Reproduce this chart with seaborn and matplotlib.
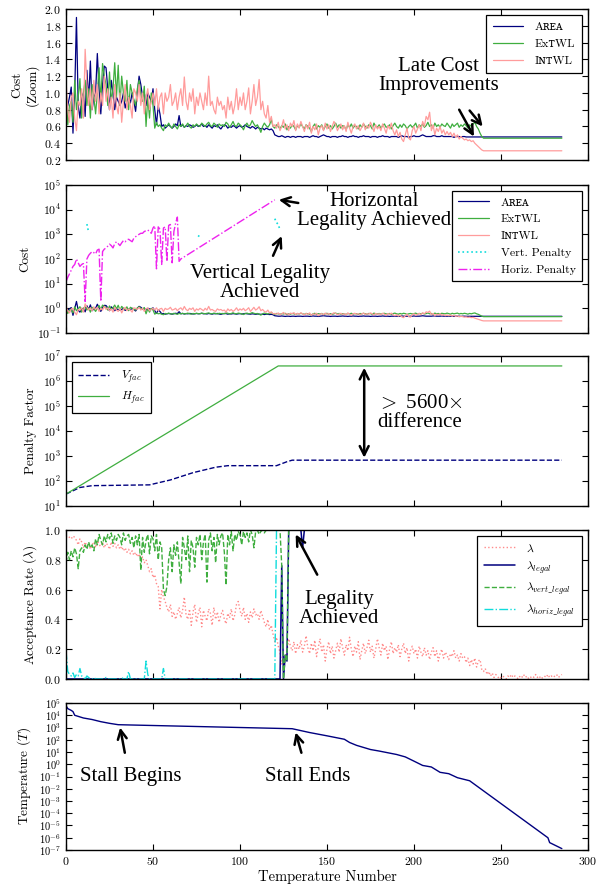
import numpy as np
import matplotlib
matplotlib.use("Agg")
import matplotlib.pyplot as plt
from matplotlib.ticker import NullLocator, FixedLocator
import seaborn as sns

# ---------------------------------------------------------------- data
final_step = 285

# normalised cost terms, one value per temperature step (held flat after the list ends)
area_cost = [
    0.80, 0.85, 0.95, 1.07, 0.52, 1.00, 1.90, 0.85, 0.70, 0.95,
    1.00, 0.72, 1.27, 0.90, 1.38, 0.80, 0.95, 1.00, 1.47, 1.05,
    0.75, 1.10, 1.32, 1.30, 1.05, 0.80, 1.15, 1.00, 0.80, 0.95,
    0.90, 0.85, 0.90, 1.00, 0.82, 0.90, 0.95, 0.88, 1.00, 0.90,
    0.78, 1.00, 1.20, 1.10, 0.95, 1.00, 0.85, 1.00, 0.95, 0.90,
    1.05, 0.80, 0.62, 0.85, 0.75, 0.60, 0.62, 0.58, 0.60, 0.62,
    0.60, 0.58, 0.60, 0.63, 0.61, 0.73, 0.60, 0.62, 0.59, 0.61,
    0.60, 0.62, 0.61, 0.59, 0.60, 0.62, 0.60, 0.61, 0.63, 0.60,
    0.61, 0.59, 0.62, 0.60, 0.58, 0.61, 0.60, 0.62, 0.59, 0.57,
    0.60, 0.62, 0.61, 0.58, 0.60, 0.59, 0.61, 0.60, 0.58, 0.60,
    0.61, 0.59, 0.60, 0.62, 0.60, 0.59, 0.58, 0.60, 0.59, 0.57,
    0.59, 0.58, 0.57, 0.58, 0.56, 0.58, 0.57, 0.56, 0.57, 0.55,
    0.50, 0.49, 0.48, 0.48, 0.49, 0.48, 0.47, 0.48, 0.48, 0.47,
    0.48, 0.48, 0.47, 0.48, 0.48, 0.48, 0.47, 0.48, 0.48, 0.48,
    0.47, 0.48, 0.49, 0.48, 0.48, 0.47, 0.48, 0.49, 0.50, 0.49,
    0.48, 0.48, 0.47, 0.48, 0.48, 0.48, 0.47, 0.48, 0.48, 0.49,
    0.48, 0.48, 0.47, 0.48, 0.48, 0.49, 0.48, 0.48, 0.47, 0.48,
    0.48, 0.49, 0.48, 0.48, 0.48, 0.47, 0.48, 0.48, 0.48, 0.47,
    0.48, 0.48, 0.49, 0.48, 0.48, 0.48, 0.47, 0.48, 0.48, 0.48,
    0.48, 0.47, 0.48, 0.49, 0.48, 0.48, 0.48, 0.47, 0.48, 0.48,
    0.49, 0.48, 0.48, 0.48, 0.49, 0.50, 0.49, 0.48, 0.48, 0.48,
    0.48, 0.49, 0.49, 0.48, 0.48, 0.48, 0.49, 0.48, 0.48, 0.48,
    0.48, 0.48, 0.48, 0.47, 0.48, 0.48, 0.48, 0.47, 0.48, 0.48,
    0.475,
]

extwl_cost = [
    1.10, 0.62, 0.85, 0.90, 0.65, 1.15, 0.80, 0.95, 1.17, 0.70,
    1.00, 1.15, 0.85, 1.05, 0.70, 1.10, 0.95, 0.75, 1.00, 1.30,
    0.90, 1.35, 1.20, 1.10, 0.85, 1.25, 0.90, 1.05, 1.36, 0.95,
    1.33, 0.85, 1.20, 1.00, 0.90, 1.15, 0.80, 1.10, 1.00, 0.92,
    0.85, 1.05, 1.15, 0.98, 0.90, 1.08, 0.60, 0.95, 0.70, 1.00,
    0.85, 0.58, 0.65, 0.60, 0.62, 0.58, 0.55, 0.62, 0.60, 0.64,
    0.60, 0.58, 0.63, 0.60, 0.57, 0.62, 0.60, 0.63, 0.59, 0.61,
    0.64, 0.60, 0.58, 0.62, 0.60, 0.63, 0.61, 0.60, 0.64, 0.62,
    0.60, 0.63, 0.65, 0.61, 0.60, 0.64, 0.62, 0.59, 0.63, 0.61,
    0.62, 0.60, 0.65, 0.63, 0.59, 0.62, 0.66, 0.61, 0.60, 0.64,
    0.62, 0.60, 0.56, 0.61, 0.64, 0.60, 0.62, 0.67, 0.63, 0.60,
    0.62, 0.58, 0.53, 0.60, 0.64, 0.61, 0.59, 0.62, 0.68, 0.60,
    0.58, 0.62, 0.60, 0.57, 0.61, 0.59, 0.63, 0.56, 0.60, 0.58,
    0.62, 0.60, 0.56, 0.61, 0.59, 0.63, 0.60, 0.57, 0.62, 0.60,
    0.58, 0.54, 0.60, 0.63, 0.57, 0.61, 0.59, 0.62, 0.56, 0.60,
    0.63, 0.58, 0.61, 0.57, 0.60, 0.64, 0.59, 0.62, 0.58, 0.61,
    0.60, 0.56, 0.62, 0.59, 0.63, 0.58, 0.61, 0.60, 0.57, 0.62,
    0.59, 0.63, 0.60, 0.58, 0.62, 0.61, 0.57, 0.64, 0.60, 0.59,
    0.62, 0.58, 0.61, 0.63, 0.59, 0.60, 0.62, 0.57, 0.61, 0.64,
    0.60, 0.58, 0.62, 0.59, 0.63, 0.61, 0.57, 0.60, 0.62, 0.59,
    0.61, 0.64, 0.58, 0.62, 0.60, 0.63, 0.59, 0.61, 0.65, 0.60,
    0.62, 0.58, 0.64, 0.60, 0.62, 0.59, 0.63, 0.61, 0.60, 0.64,
    0.61, 0.58, 0.63, 0.60, 0.62, 0.64, 0.59, 0.62, 0.60, 0.63,
    0.61, 0.58, 0.62, 0.60, 0.63, 0.65, 0.60, 0.57, 0.52, 0.48,
    0.46,
]

intwl_cost = [
    1.15, 0.80, 0.65, 0.95, 1.00, 0.70, 0.55, 0.90, 0.85, 1.05,
    0.70, 1.52, 1.10, 0.85, 1.05, 0.80, 1.15, 0.90, 1.10, 0.75,
    1.00, 0.85, 1.20, 0.90, 1.05, 0.80, 0.95, 0.70, 1.10, 0.85,
    0.75, 1.00, 0.65, 0.90, 1.10, 0.80, 0.95, 0.85, 0.70, 1.05,
    1.00, 0.90, 1.10, 0.85, 1.00, 0.75, 0.95, 1.05, 0.80, 0.90,
    1.00, 0.85, 1.05, 0.80, 0.95, 1.00, 0.75, 1.00, 0.90, 0.95,
    1.10, 0.85, 0.90, 1.00, 0.80, 0.95, 1.05, 0.85, 1.19, 0.90,
    0.80, 1.00, 0.90, 1.05, 0.75, 0.95, 0.85, 1.00, 0.90, 0.80,
    1.00, 0.85, 1.20, 0.85, 0.90, 0.80, 0.75, 0.95, 0.85, 0.90,
    0.80, 0.85, 0.70, 0.95, 0.80, 0.90, 0.75, 0.85, 1.05, 0.80,
    0.95, 0.85, 1.00, 0.80, 0.90, 1.06, 0.75, 0.90, 1.10, 0.85,
    0.95, 1.16, 0.80, 0.90, 0.75, 0.70, 0.85, 0.65, 0.72, 0.60,
    0.62, 0.58, 0.65, 0.55, 0.60, 0.68, 0.57, 0.62, 0.55, 0.64,
    0.60, 0.67, 0.55, 0.63, 0.58, 0.66, 0.60, 0.54, 0.62, 0.57,
    0.65, 0.52, 0.60, 0.56, 0.63, 0.50, 0.58, 0.61, 0.55, 0.64,
    0.57, 0.62, 0.54, 0.60, 0.66, 0.62, 0.55, 0.59, 0.63, 0.56,
    0.61, 0.54, 0.65, 0.58, 0.52, 0.60, 0.63, 0.57, 0.61, 0.55,
    0.59, 0.64, 0.56, 0.61, 0.58, 0.65, 0.60, 0.54, 0.62, 0.57,
    0.60, 0.55, 0.63, 0.58, 0.52, 0.61, 0.57, 0.64, 0.55, 0.50,
    0.56, 0.48, 0.53, 0.45, 0.42, 0.50, 0.58, 0.46, 0.44, 0.55,
    0.60, 0.52, 0.57, 0.62, 0.55, 0.66, 0.60, 0.72, 0.68, 0.77,
    0.55, 0.62, 0.50, 0.58, 0.54, 0.60, 0.52, 0.56, 0.50, 0.54,
    0.50, 0.53, 0.48, 0.52, 0.47, 0.50, 0.45, 0.48, 0.46, 0.44,
    0.45, 0.43, 0.44, 0.42, 0.43, 0.40, 0.38, 0.36, 0.34, 0.32,
    0.31,
]

# legality penalties (only nonzero stretches are drawn on the log axis)
horiz_pen_steps = list(range(67)) + [120]
horiz_pen = [
    12, 18, 25, 35, 50, 60, 100, 70, 50, 60,
    65, 1.9, 100, 140, 170, 200, 180, 160, 230, 250,
    1.9, 200, 250, 280, 330, 400, 350, 280, 420, 500,
    420, 350, 450, 560, 500, 600, 630, 560, 500, 700,
    800, 900, 1000, 1100, 1100, 1300, 1400, 1500, 1300, 1100,
    1800, 2200, 40, 2000, 1600, 60, 1800, 2000, 80, 2300,
    2500, 70, 1300, 2800, 5000, 80, 100,
    25000,
]
vert_pen_steps = [12, 13, 76, 77, 120, 121, 122, 123]
vert_pen = [2600, 1200, 800, 1000, 4300, 3000, 2500, 1500]

# penalty factors
vfac_steps = [0, 8, 15, 48, 60, 73, 86, 93, 121, 127, 130, final_step]
vfac = [30, 55, 65, 70, 110, 215, 355, 410, 410, 590, 680, 680]
hfac_steps = [0, 122, final_step]
hfac = [30, 4.0e6, 4.0e6]

# acceptance rates
lam = [
    0.95, 0.96, 0.95, 0.94, 0.96, 0.95, 0.93, 0.90, 0.94, 0.92,
    0.88, 0.92, 0.89, 0.91, 0.87, 0.90, 0.92, 0.88, 0.93, 0.90,
    0.89, 0.92, 0.88, 0.91, 0.90, 0.87, 0.92, 0.89, 0.91, 0.88,
    0.90, 0.87, 0.89, 0.86, 0.88, 0.85, 0.87, 0.84, 0.86, 0.83,
    0.85, 0.82, 0.84, 0.80, 0.82, 0.78, 0.80, 0.76, 0.72, 0.74,
    0.68, 0.70, 0.64, 0.62, 0.47, 0.60, 0.55, 0.52, 0.48, 0.45,
    0.50, 0.42, 0.45, 0.40, 0.44, 0.48, 0.41, 0.46, 0.55, 0.43,
    0.40, 0.47, 0.36, 0.45, 0.50, 0.38, 0.44, 0.48, 0.35, 0.46,
    0.42, 0.39, 0.47, 0.44, 0.36, 0.48, 0.40, 0.45, 0.38, 0.43,
    0.46, 0.40, 0.37, 0.44, 0.41, 0.47, 0.39, 0.43, 0.50, 0.52,
    0.46, 0.42, 0.48, 0.40, 0.44, 0.38, 0.45, 0.41, 0.47, 0.43,
    0.44, 0.40, 0.46, 0.42, 0.38, 0.35, 0.40, 0.33, 0.36, 0.30,
    0.25, 0.28, 0.22, 0.18, 0.10, 0.15, 0.12, 0.18, 0.27, 0.22,
    0.19, 0.25, 0.17, 0.23, 0.20, 0.26, 0.18, 0.22, 0.29, 0.21,
    0.17, 0.24, 0.19, 0.26, 0.15, 0.21, 0.27, 0.18, 0.23, 0.12,
    0.20, 0.25, 0.17, 0.22, 0.14, 0.19, 0.24, 0.18, 0.27, 0.21,
    0.16, 0.23, 0.19, 0.28, 0.20, 0.15, 0.22, 0.18, 0.25, 0.13,
    0.19, 0.24, 0.17, 0.21, 0.26, 0.18, 0.22, 0.14, 0.20, 0.27,
    0.21, 0.16, 0.24, 0.19, 0.22, 0.13, 0.20, 0.25, 0.17, 0.21,
    0.18, 0.23, 0.15, 0.20, 0.24, 0.17, 0.21, 0.12, 0.19, 0.22,
    0.17, 0.20, 0.14, 0.22, 0.18, 0.15, 0.21, 0.16, 0.19, 0.13,
    0.18, 0.21, 0.15, 0.19, 0.12, 0.17, 0.20, 0.14, 0.18, 0.16,
    0.13, 0.17, 0.15, 0.19, 0.14, 0.16, 0.12, 0.17, 0.14, 0.15,
    0.11, 0.14, 0.09, 0.13, 0.10, 0.14, 0.08, 0.12, 0.13, 0.06,
    0.05, 0.07, 0.03, 0.05, 0.02, 0.04, 0.01, 0.03, 0.02, 0.00,
    0.01, 0.02, 0.01, 0.00, 0.02, 0.01, 0.03, 0.01, 0.02, 0.01,
    0.00, 0.02, 0.01, 0.03, 0.01, 0.02, 0.00, 0.01, 0.02, 0.01,
    0.03, 0.01, 0.02, 0.00, 0.01, 0.02, 0.01, 0.03, 0.01, 0.02,
    0.01, 0.02, 0.03, 0.01, 0.02, 0.03,
]

lam_legal_steps = [0, 123, 124, 125, 126, 127, 128, 135, 136, 137, final_step]
lam_legal = [0.0, 0.0, 0.76, 0.0, 0.16, 0.12, 1.0, 1.0, 0.88, 1.0, 1.0]

lam_vert = [
    0.78, 0.85, 0.80, 0.86, 0.82, 0.88, 0.84, 0.74, 0.86, 0.88,
    0.85, 0.90, 0.87, 0.92, 0.88, 0.90, 0.86, 0.94, 0.90, 0.97,
    0.93, 0.90, 0.96, 0.92, 0.97, 0.94, 0.98, 0.91, 0.96, 0.93,
    0.97, 0.95, 0.90, 0.98, 0.93, 0.96, 0.97, 0.91, 0.95, 0.88,
    0.96, 0.90, 0.97, 0.73, 0.95, 0.85, 0.93, 0.97, 0.84, 0.96,
    0.94, 0.86, 0.97, 0.80, 0.92, 0.88, 0.60, 0.56, 0.62, 0.80,
    0.88, 0.72, 0.90, 0.83, 0.92, 0.78, 0.64, 0.95, 0.88, 0.80,
    0.96, 0.72, 0.93, 0.88, 0.75, 0.95, 0.90, 0.97, 0.80, 0.92,
    0.97, 0.65, 0.93, 0.98, 0.86, 0.95, 0.78, 0.97, 0.90, 0.96,
    0.98, 0.85, 0.63, 0.97, 0.90, 0.99, 0.86, 0.97, 0.93, 0.99,
    0.97, 0.90, 0.99, 0.95, 0.98, 0.92, 1.00, 0.97, 0.88, 0.99,
    1.00, 0.97, 0.99, 1.00, 0.98, 1.00, 0.99, 1.00, 1.00, 1.00,
    1.00, 1.00, 1.00, 1.00, 0.76, 0.00, 0.16, 0.12, 1.00, 1.00,
]

lam_horiz_steps = list(range(60)) + [120, 121, final_step]
lam_horiz = [
    0.19, 0.05, 0.03, 0.02, 0.04, 0.01, 0.03, 0.02, 0.07, 0.02,
    0.01, 0.00, 0.02, 0.01, 0.00, 0.00, 0.01, 0.00, 0.00, 0.00,
    0.00, 0.00, 0.00, 0.01, 0.00, 0.00, 0.00, 0.00, 0.00, 0.00,
    0.00, 0.00, 0.01, 0.00, 0.00, 0.00, 0.05, 0.00, 0.00, 0.00,
    0.00, 0.00, 0.00, 0.00, 0.00, 0.00, 0.12, 0.03, 0.00, 0.00,
    0.00, 0.00, 0.00, 0.00, 0.00, 0.00, 0.07, 0.00, 0.00, 0.00,
    0.00, 1.00, 1.00,
]

# annealing temperature schedule
temp_steps = [0, 1, 3, 4, 5, 10, 15, 20, 25, 30, 130, 140, 150, 160, 163,
              167, 175, 180, 190, 195, 200, 205, 210, 215, 220, 225, 232,
              277, 278, final_step]
temp = [6e4, 3.5e4, 2.5e4, 2e4, 1e4, 6e3, 4.5e3, 3e3, 2.2e3, 1.7e3, 8e2,
        3.9e2, 2.1e2, 1.1e2, 6e1, 3.5e1, 1.6e1, 1.2e1, 6.3, 4.0, 1.8, 0.8,
        0.6, 0.22, 0.17, 0.08, 0.045, 1e-6, 4e-7, 1.3e-7]

# ---------------------------------------------------------------- style
sns.set_theme(style="ticks")
plt.rcParams.update({
    "font.family": ["cmr10", "DejaVu Serif"],
    "mathtext.fontset": "cm",
    "axes.formatter.use_mathtext": True,
    "axes.unicode_minus": False,
    "xtick.direction": "in", "ytick.direction": "in",
    "xtick.top": True, "ytick.right": True,
    "xtick.major.size": 4, "ytick.major.size": 4,
    "xtick.major.width": 0.8, "ytick.major.width": 0.8,
    "axes.edgecolor": "black", "axes.linewidth": 1.0,
    "xtick.color": "black", "ytick.color": "black",
    "axes.labelcolor": "black", "text.color": "black",
    "xtick.labelsize": 8.5, "ytick.labelsize": 8.5,
    "axes.labelsize": 9.5,
})

NAVY = "#00007f"
GREEN = "#3fae3f"
PINK = "#ff9c9c"
LAMPINK = "#ff8a8a"
CYAN = "#10dcdc"
MAGENTA = "#ee22ee"
NOTE_FONT = ["Liberation Serif", "DejaVu Serif"]
SMALLCAPS_FONT = ["cmr10", "DejaVu Serif", "DejaVu Sans"]


def held(values, last=final_step):
    """Per-step values, held at their final level up to the last step."""
    x = list(range(len(values))) + [last]
    y = list(values) + [values[-1]]
    return np.array(x, float), np.array(y, float)


def draw(ax, x, y, **kw):
    sns.lineplot(x=np.asarray(x, float), y=np.asarray(y, float), ax=ax,
                 estimator=None, sort=False, **kw)


def arrow(ax, head, tail, style="->"):
    ax.annotate("", xy=head, xytext=tail,
                arrowprops=dict(arrowstyle=style, lw=1.8, color="black",
                                mutation_scale=16, shrinkA=0, shrinkB=0))


def note(ax, x, y, s, ha="center"):
    ax.text(x, y, s, fontsize=15, family=NOTE_FONT, ha=ha, va="center",
            linespacing=1.0)


def legend(ax, loc, smallcaps=0, spacing=0.5):
    leg = ax.legend(loc=loc, frameon=True, fancybox=False, framealpha=1,
                    edgecolor="black", fontsize=8.5, handlelength=2.6,
                    labelspacing=spacing, borderpad=0.55, handletextpad=1.0)
    leg.get_frame().set_linewidth(0.9)
    for t in leg.get_texts()[:smallcaps]:
        t.set_fontfamily(SMALLCAPS_FONT)
    return leg


cost_labels = ["A\u0280\u1d07\u1d00", "Ex\u1d1bWL", "I\u0274\u1d1bWL"]

fig = plt.figure(figsize=(6.09, 8.88), dpi=100)
left, width = 0.1084, 0.857
boxes = [
    (left, 0.8198, width, 0.1700),
    (left, 0.6250, width, 0.1667),
    (left, 0.4302, width, 0.1689),
    (left, 0.2354, width, 0.1678),
    (left, 0.0428, width, 0.1655),
]
axes = [fig.add_axes(b) for b in boxes]

# ---- panel 1: cost terms, linear zoom
ax = axes[0]
for vals, color, lab in zip([area_cost, extwl_cost, intwl_cost],
                            [NAVY, GREEN, PINK], cost_labels):
    x, y = held(vals)
    draw(ax, x, y, color=color, lw=0.9, label=lab)
ax.set_ylim(0.2, 2.0)
ax.yaxis.set_major_locator(FixedLocator(np.round(np.arange(0.2, 2.01, 0.2), 1)))
ax.set_ylabel("Cost\n(Zoom)")
legend(ax, "upper right", smallcaps=3, spacing=0.6)
note(ax, 214, 1.2, "Late Cost\nImprovements")
arrow(ax, (234.5, 0.48), (226, 0.80))
arrow(ax, (239.5, 0.60), (232, 0.79))

# ---- panel 2: cost terms with penalties, log scale
ax = axes[1]
ax.set_yscale("log")
for vals, color, lab in zip([area_cost, extwl_cost, intwl_cost],
                            [NAVY, GREEN, PINK], cost_labels):
    x, y = held(vals)
    draw(ax, x, y, color=color, lw=0.9, label=lab)
vs = np.array(vert_pen_steps)
vv = np.array(vert_pen, float)
breaks = np.where(np.diff(vs) > 1)[0] + 1
for i, (gx, gy) in enumerate(zip(np.split(vs, breaks), np.split(vv, breaks))):
    draw(ax, gx, gy, color=CYAN, lw=1.2, linestyle=":",
         label="Vert. Penalty" if i == 0 else None)
draw(ax, horiz_pen_steps, horiz_pen, color=MAGENTA, lw=1.0, linestyle="-.",
     label="Horiz. Penalty")
ax.set_ylim(1e-1, 1e5)
ax.yaxis.set_major_locator(FixedLocator([10.0 ** k for k in range(-1, 6)]))
ax.set_ylabel("Cost")
legend(ax, "upper right", smallcaps=3, spacing=0.55)
note(ax, 177, 10 ** 3.93, "Horizontal\nLegality Achieved")
arrow(ax, (122.3, 10 ** 4.4), (133.5, 10 ** 4.27))
note(ax, 111.6, 10 ** 1.03, "Vertical Legality\nAchieved")
arrow(ax, (124, 10 ** 2.93), (119, 10 ** 2.13))

# ---- panel 3: penalty factors
ax = axes[2]
ax.set_yscale("log")
draw(ax, vfac_steps, vfac, color=NAVY, lw=1.0, linestyle="--",
     label=r"$V_{fac}$")
draw(ax, hfac_steps, hfac, color=GREEN, lw=0.9, label=r"$H_{fac}$")
ax.set_ylim(1e1, 1e7)
ax.yaxis.set_major_locator(FixedLocator([10.0 ** k for k in range(1, 8)]))
ax.set_ylabel("Penalty Factor")
legend(ax, "upper left", spacing=0.4)
arrow(ax, (171.4, 3.4e6), (171.4, 8.5e2), style="<->")
note(ax, 179, 10 ** 4.72, "$>$ 5600$\\times$\ndifference", ha="left")

# ---- panel 4: acceptance rates
ax = axes[3]
draw(ax, range(len(lam)), lam, color=LAMPINK, lw=1.0, linestyle=":",
     label=r"$\lambda$")
draw(ax, lam_legal_steps, lam_legal, color=NAVY, lw=1.1,
     label=r"$\lambda_{legal}$")
x, y = held(lam_vert)
draw(ax, x, y, color=GREEN, lw=1.0, linestyle="--",
     label=r"$\lambda_{vert\_legal}$")
draw(ax, lam_horiz_steps, lam_horiz, color=CYAN, lw=1.0, linestyle="-.",
     label=r"$\lambda_{horiz\_legal}$")
ax.set_ylim(0.0, 1.0)
ax.yaxis.set_major_locator(FixedLocator(np.round(np.arange(0.0, 1.01, 0.2), 1)))
ax.set_ylabel(r"Acceptance Rate ($\lambda$)")
legend(ax, "upper right", spacing=0.45)
note(ax, 156.8, 0.467, "Legality\nAchieved")
arrow(ax, (132, 0.97), (144.4, 0.70))

# ---- panel 5: temperature
ax = axes[4]
ax.set_yscale("log")
draw(ax, temp_steps, temp, color=NAVY, lw=1.0)
ax.set_ylim(1e-7, 1e5)
ax.yaxis.set_major_locator(FixedLocator([10.0 ** k for k in range(-7, 6)]))
ax.tick_params(axis="y", labelsize=7.5)
ax.set_ylabel(r"Temperature ($T$)")
ax.set_xlabel("Temperature Number", fontsize=10.5, labelpad=2)
note(ax, 37.2, 0.1, "Stall Begins")
arrow(ax, (31.1, 10 ** 3.0), (33.8, 10 ** 0.94))
note(ax, 138.7, 0.1, "Stall Ends")
arrow(ax, (132, 10 ** 2.6), (135.3, 10 ** 0.94))

for i, ax in enumerate(axes):
    ax.set_xlim(0, 300)
    ax.xaxis.set_major_locator(FixedLocator(np.arange(0, 301, 50)))
    ax.xaxis.set_minor_locator(NullLocator())
    ax.yaxis.set_minor_locator(NullLocator())
    ax.tick_params(which="both", direction="in", top=True, right=True)
    if i < 4:
        ax.tick_params(labelbottom=False)
        ax.set_xlabel("")
    for sp in ax.spines.values():
        sp.set_visible(True)
        sp.set_color("black")
        sp.set_linewidth(1.0)

fig.savefig("out.png", dpi=100)
